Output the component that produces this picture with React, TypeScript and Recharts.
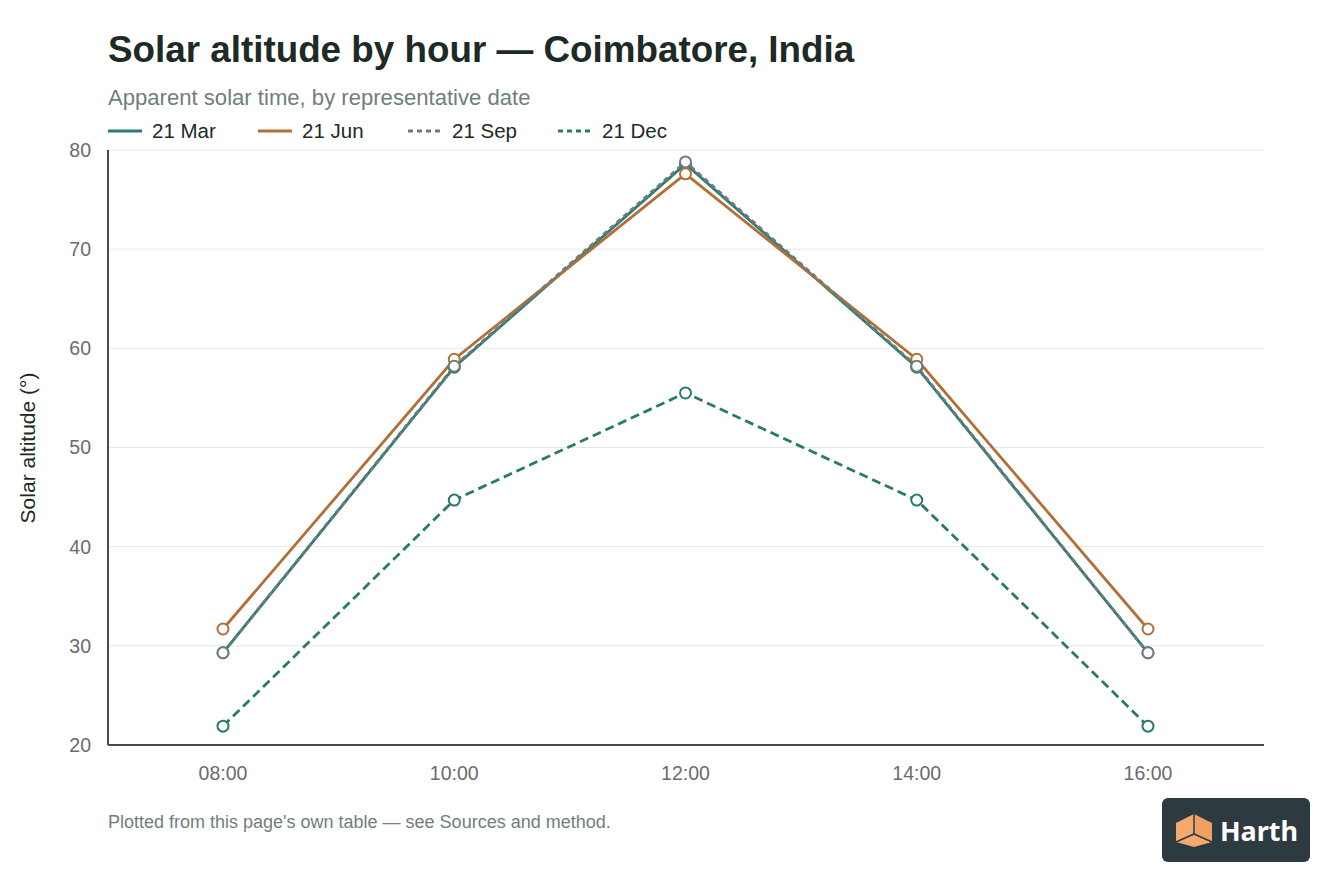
import React from "react";
import { LineChart, Line, XAxis, YAxis, CartesianGrid } from "recharts";

const hours = ["08:00", "10:00", "12:00", "14:00", "16:00"];
const mar = [29.3, 58.1, 78.6, 58.1, 29.3];
const jun = [31.7, 58.9, 77.6, 58.9, 31.7];
const sep = [29.3, 58.2, 78.8, 58.2, 29.3];
const dec = [21.9, 44.7, 55.5, 44.7, 21.9];
const yTicks = [20, 30, 40, 50, 60, 70, 80];

const data = hours.map((h, i) => ({ hour: h, mar: mar[i], jun: jun[i], sep: sep[i], dec: dec[i] }));

const FONT = '"Liberation Sans", Arial, Helvetica, sans-serif';
const C_MAR = "#2e7b76";
const C_JUN = "#b36f38";
const C_SEP = "#6b7d78";
const C_DEC = "#2a7a68";

const legendItems = [
  { label: "21 Mar", color: C_MAR, dash: undefined as string | undefined },
  { label: "21 Jun", color: C_JUN, dash: undefined },
  { label: "21 Sep", color: C_SEP, dash: "5 4" },
  { label: "21 Dec", color: C_DEC, dash: "5 4" },
];

const dot = (color: string) => ({ r: 5.5, fill: "#ffffff", stroke: color, strokeWidth: 2, strokeDasharray: "0" });

export default function App() {
  return (
    <div style={{ position: "absolute", left: 0, top: 0, width: 1344, height: 896, background: "#ffffff", fontFamily: FONT, overflow: "hidden" }}>
      <div style={{ position: "absolute", left: 108, top: 29, fontSize: 36.8, fontWeight: 700, color: "#1d2a26", whiteSpace: "nowrap" }}>
        Solar altitude by hour — Coimbatore, India
      </div>
      <div style={{ position: "absolute", left: 108, top: 85, fontSize: 22.1, color: "#6f7f7a", whiteSpace: "nowrap" }}>
        Apparent solar time, by representative date
      </div>
      <div style={{ position: "absolute", left: 108, top: 119, display: "flex", alignItems: "center", fontSize: 20.5, color: "#1d2a26", whiteSpace: "nowrap" }}>
        {legendItems.map((it) => (
          <div key={it.label} style={{ display: "flex", alignItems: "center", width: 150 }}>
            <svg width={34} height={10} style={{ marginRight: 10 }}>
              <line x1={0} y1={5} x2={34} y2={5} stroke={it.color} strokeWidth={3} strokeDasharray={it.dash} />
            </svg>
            <span>{it.label}</span>
          </div>
        ))}
      </div>
      <div style={{ position: "absolute", left: 28, top: 448, transform: "translate(-50%, -50%) rotate(-90deg)", fontSize: 21, color: "#1d2a26", whiteSpace: "nowrap" }}>
        Solar altitude (°)
      </div>
      <div style={{ position: "absolute", left: 108, top: 812, fontSize: 18, color: "#6f7f7a", whiteSpace: "nowrap" }}>
        Plotted from this page's own table — see Sources and method.
      </div>
      <div style={{ position: "absolute", left: 1162, top: 798, width: 148, height: 64, background: "#2d3a40", borderRadius: 6, display: "flex", alignItems: "center", justifyContent: "center" }}>
        <svg width={40} height={36} viewBox="0 0 40 36" style={{ marginRight: 6 }}>
          <polygon points="20,2 2,11 2,30 20,22" fill="#f4a96e" />
          <polygon points="20,2 38,11 38,30 20,22" fill="#f0a064" />
          <polygon points="2,30 20,22 38,30 20,35" fill="#f4a96e" />
          <line x1={20} y1={2} x2={20} y2={22} stroke="#2d3a40" strokeWidth={1.5} />
          <line x1={20} y1={22} x2={2} y2={30} stroke="#2d3a40" strokeWidth={1.5} />
          <line x1={20} y1={22} x2={38} y2={30} stroke="#2d3a40" strokeWidth={1.5} />
        </svg>
        <span style={{ color: "#ffffff", fontSize: 27, fontWeight: 700, fontFamily: '"Noto Sans", "Open Sans", sans-serif' }}>Harth</span>
      </div>
      <div style={{ position: "absolute", left: 0, top: 0 }}>
        <LineChart width={1344} height={896} data={data} margin={{ top: 150, right: 80, bottom: 121, left: 48 }}>
          <CartesianGrid vertical={false} stroke="#e8e8e8" strokeWidth={1} />
          <XAxis
            dataKey="hour"
            type="category"
            padding={{ left: 115, right: 116 }}
            height={30}
            tickLine={false}
            axisLine={{ stroke: "#4a4a4a", strokeWidth: 2 }}
            tick={{ fill: "#6b6b6b", fontSize: 19.5, fontFamily: FONT }}
            tickMargin={15}
          />
          <YAxis
            type="number"
            domain={[20, 80]}
            ticks={yTicks}
            width={60}
            tickLine={false}
            axisLine={{ stroke: "#4a4a4a", strokeWidth: 2 }}
            tick={{ fill: "#6b6b6b", fontSize: 19.5, fontFamily: FONT }}
            tickMargin={11}
            interval={0}
          />
          <Line dataKey="mar" stroke={C_MAR} strokeWidth={2.8} dot={dot(C_MAR)} activeDot={false} isAnimationActive={false} />
          <Line dataKey="jun" stroke={C_JUN} strokeWidth={2.8} dot={dot(C_JUN)} activeDot={false} isAnimationActive={false} />
          <Line dataKey="sep" stroke={C_SEP} strokeWidth={2.8} strokeDasharray="5 4" dot={dot(C_SEP)} activeDot={false} isAnimationActive={false} />
          <Line dataKey="dec" stroke={C_DEC} strokeWidth={2.8} strokeDasharray="9 5" dot={dot(C_DEC)} activeDot={false} isAnimationActive={false} />
        </LineChart>
      </div>
    </div>
  );
}
